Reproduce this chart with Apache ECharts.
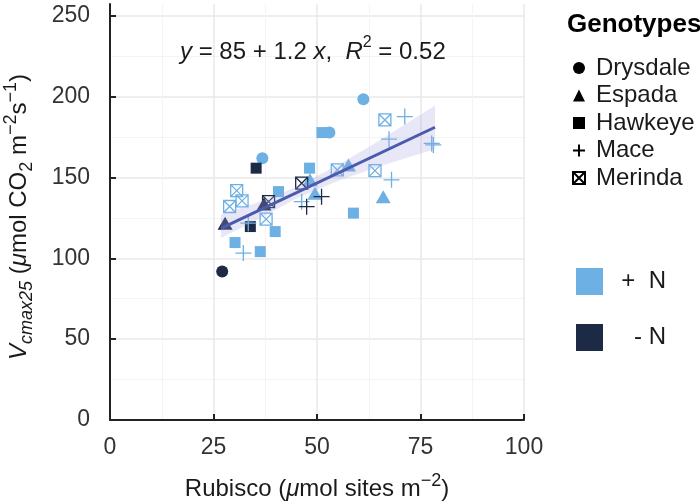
<!DOCTYPE html>
<html>
<head>
<meta charset="utf-8">
<script src="https://cdn.jsdelivr.net/npm/echarts@6/dist/echarts.min.js"></script>
<style>
html,body{margin:0;padding:0;background:#fff;}
#chart{width:700px;height:502px;}
</style>
</head>
<body>
<div id="chart"></div>
<script>
// ---- data ----
const genotypes = ['Drysdale', 'Espada', 'Hawkeye', 'Mace', 'Merinda'];
const nLevels = ['+ N', '- N'];

const drysdalePlusN  = [[61.2,198.3],[36.8,161.9],[53.0,177.7]];
const drysdaleMinusN = [[27.1,91.8]];
const espadaPlusN    = [[57.6,157.7],[48.3,148.6],[49.5,140.2],[66.0,138.1]];
const espadaMinusN   = [[27.8,121.7],[37.2,133.6]];
const hawkeyePlusN   = [[40.7,141.2],[39.9,116.5],[30.2,109.7],[36.3,104.1],[48.2,155.7],[58.8,127.9],[51.2,177.7]];
const hawkeyeMinusN  = [[35.3,155.7],[33.9,119.6]];
const macePlusN      = [[32.2,103.2],[33.4,121.7],[46.3,135.0],[71.2,187.6],[67.4,173.6],[78.1,170.1],[77.7,171.0],[68.0,148.5]];
const maceMinusN     = [[47.5,131.9],[51.1,138.1]];
const merindaPlusN   = [[30.6,141.8],[31.9,135.5],[28.9,132.0],[37.7,124.2],[66.4,185.5],[64.0,154.2],[54.9,154.6]];
const merindaMinusN  = [[38.3,135.0],[46.3,146.4]];

// regression line end points and confidence band
const fitLine = [[26.8,118.5],[78.5,181.0]];
const bandX  = [26.8, 35, 45, 55, 65, 78.5];
const bandLo = [112.5, 123.0, 137.0, 147.7, 156.7, 167.5];
const bandHi = [127.0, 133.8, 144.0, 157.5, 172.7, 194.5];

const xTicks = [0, 25, 50, 75, 100];
const yTicks = [0, 50, 100, 150, 200, 250];

// ---- styles ----
const LIGHT = '#6cb0e4';
const DARK = '#1c2a46';
const FONT = 'Liberation Sans, Arial, sans-serif';

const PLUS_PATH = 'path://M0,5L10,5M5,0L5,10';
const BOXX_PATH = 'path://M0,0L10,0L10,10L0,10ZM0,0L10,10M10,0L0,10';

const shapeDefs = {
  Drysdale: {symbol: 'circle', size: 12, stroke: false},
  Espada:   {symbol: 'triangle', size: [15, 13], stroke: false},
  Hawkeye:  {symbol: 'rect', size: 11, stroke: false},
  Mace:     {symbol: PLUS_PATH, size: 16, stroke: true},
  Merinda:  {symbol: BOXX_PATH, size: 12, stroke: true}
};
const dataMap = {
  Drysdale: [drysdalePlusN, drysdaleMinusN],
  Espada: [espadaPlusN, espadaMinusN],
  Hawkeye: [hawkeyePlusN, hawkeyeMinusN],
  Mace: [macePlusN, maceMinusN],
  Merinda: [merindaPlusN, merindaMinusN]
};

const series = [];
genotypes.forEach(g => {
  const d = shapeDefs[g];
  [0, 1].forEach(k => {
    const col = k === 0 ? LIGHT : DARK;
    series.push({
      type: 'scatter',
      name: g + ' ' + nLevels[k],
      data: dataMap[g][k],
      symbol: d.symbol,
      symbolSize: d.size,
      itemStyle: d.stroke
        ? {color: 'rgba(0,0,0,0)', borderColor: col, borderWidth: 1.3, opacity: 1}
        : {color: col, borderWidth: 0, opacity: 1},
      emphasis: {disabled: true},
      z: 3
    });
  });
});

// confidence band polygon (drawn over points like the reference)
series.push({
  type: 'custom',
  name: 'band',
  data: bandX.map((x, i) => [x, bandLo[i], bandHi[i]]),
  renderItem: function (params, api) {
    if (params.dataIndex !== 0) return null;
    const pts = [];
    for (let i = 0; i < bandX.length; i++) pts.push(api.coord([bandX[i], bandHi[i]]));
    for (let i = bandX.length - 1; i >= 0; i--) pts.push(api.coord([bandX[i], bandLo[i]]));
    return {type: 'polygon', shape: {points: pts}, style: {fill: 'rgba(165,165,228,0.27)'}};
  },
  z: 4,
  silent: true
});

series.push({
  type: 'line',
  name: 'fit',
  data: fitLine,
  showSymbol: false,
  symbol: 'none',
  lineStyle: {color: '#4b5aab', width: 3},
  z: 5,
  silent: true
});

// dummy series for legends
genotypes.forEach(g => {
  const d = shapeDefs[g];
  series.push({
    type: 'scatter', name: g, data: [], symbol: d.symbol,
    itemStyle: d.stroke ? {color: 'rgba(0,0,0,0)', borderColor: '#000', borderWidth: 1.2, opacity: 1} : {color: '#000', opacity: 1}
  });
});
nLevels.forEach((n, k) => {
  series.push({type: 'scatter', name: n, data: [], symbol: 'rect', itemStyle: {color: k === 0 ? LIGHT : DARK, opacity: 1}});
});

function makeRich(fs, ss) {
  const base = {fontFamily: FONT, color: '#1a1a1a', fontWeight: 'normal'};
  return {
    n: Object.assign({}, base, {fontSize: fs, lineHeight: 34}),
    it: Object.assign({}, base, {fontSize: fs, fontStyle: 'italic', lineHeight: 34}),
    itsub: Object.assign({}, base, {fontSize: ss, fontStyle: 'italic', lineHeight: ss, verticalAlign: 'bottom'}),
    sub: Object.assign({}, base, {fontSize: ss, lineHeight: ss, verticalAlign: 'bottom'}),
    sup: Object.assign({}, base, {fontSize: ss, lineHeight: ss, verticalAlign: 'top'}),
    pad: {width: 10, fontSize: 12, lineHeight: 12}
  };
}
const richEq = makeRich(24, 16);
const richAx = makeRich(24, 18);

const chart = echarts.init(document.getElementById('chart'), null, {renderer: 'canvas'});
chart.setOption({
  animation: false,
  backgroundColor: '#fff',
  title: [
    {
      text: '{it|y}{n| = 85 + 1.2 }{it|x}{n|,  }{it|R}{sup|2}{n| = 0.52}',
      left: 180, top: 35, padding: 0,
      textStyle: {fontWeight: 'normal', rich: richEq}
    },
    {
      text: 'Genotypes',
      left: 567, top: 12, padding: 0,
      textStyle: {fontSize: 26, fontWeight: 'bold', fontFamily: FONT, color: '#000'}
    }
  ],
  legend: [
    {
      data: genotypes,
      orient: 'vertical',
      left: 572, top: 56, padding: 0,
      itemWidth: 12, itemHeight: 12, itemGap: 3.5,
      textStyle: {fontSize: 24, fontFamily: FONT, color: '#1a1a1a', lineHeight: 24, padding: [0, 0, 0, 6]},
      selectedMode: false
    },
    {
      data: nLevels,
      orient: 'vertical',
      left: 576, top: 268, padding: 0,
      itemWidth: 27, itemHeight: 27, itemGap: 29,
      icon: 'rect',
      formatter: function (name) { return '{a|' + name.replace(' ', name === '+ N' ? '  ' : ' ') + '}'; },
      textStyle: {
        fontSize: 24, fontFamily: FONT, color: '#1a1a1a', padding: [0, 0, 0, 15],
        rich: {a: {fontSize: 24, fontFamily: FONT, color: '#1a1a1a', width: 43, align: 'right'}}
      },
      selectedMode: false
    }
  ],
  grid: {left: 110, right: 176, top: 4, bottom: 82, containLabel: false, outerBoundsMode: 'none'},
  xAxis: {
    type: 'value', min: xTicks[0], max: xTicks[xTicks.length - 1], interval: 25,
    name: '{n|Rubisco (}{it|μ}{n|mol sites m}{sup|−2}{n|)}',
    nameLocation: 'middle', nameGap: 52,
    nameTextStyle: {rich: richAx},
    axisLine: {show: true, onZero: false, lineStyle: {color: '#222', width: 2}},
    axisTick: {show: true, inside: true, length: 6, lineStyle: {color: '#222', width: 2}},
    axisLabel: {fontSize: 23, fontFamily: FONT, color: '#333', margin: 16},
    splitLine: {show: true, lineStyle: {color: '#e9e9e9', width: 1.5}},
    minorTick: {show: false, splitNumber: 2},
    minorSplitLine: {show: true, lineStyle: {color: '#f4f4f4', width: 1}}
  },
  yAxis: {
    type: 'value', min: yTicks[0], max: 257.2, interval: 50,
    name: '{it|V}{itsub|cmax25}{n| (}{it|μ}{n|mol CO}{sub|2}{n| m}{sup|−2}{n|s}{sup|−1}{n|)}{pad|}',
    nameLocation: 'middle', nameGap: 74, nameRotate: 90,
    nameTextStyle: {rich: richAx},
    axisLine: {show: true, onZero: false, lineStyle: {color: '#222', width: 2}},
    axisTick: {show: true, inside: true, length: 6, lineStyle: {color: '#222', width: 2}},
    axisLabel: {
      fontSize: 23, fontFamily: FONT, color: '#333', margin: 20, showMaxLabel: false,
      formatter: function (v) { return yTicks.indexOf(v) >= 0 ? String(v) : ''; }
    },
    splitLine: {show: true, showMaxLine: false, lineStyle: {color: '#e9e9e9', width: 1.5}},
    minorTick: {show: false, splitNumber: 2},
    minorSplitLine: {show: true, lineStyle: {color: '#f4f4f4', width: 1}}
  },
  series: series
});
</script>
</body>
</html>
